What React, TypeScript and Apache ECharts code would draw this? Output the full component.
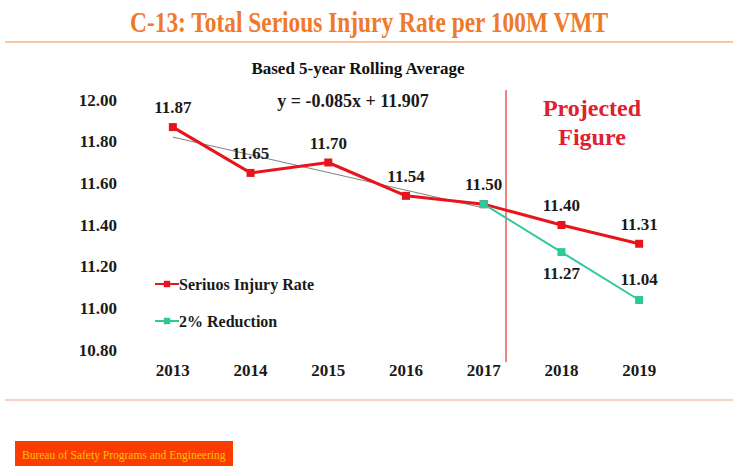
import React, { useEffect, useRef } from "react";
import * as echarts from "echarts";

const years = ["2013", "2014", "2015", "2016", "2017", "2018", "2019"];
const injuryRate = [11.87, 11.65, 11.7, 11.54, 11.5, 11.4, 11.31];
const reduction = [null, null, null, null, 11.5, 11.27, 11.04];
const trend = [11.822, null, null, null, 11.482, null, null];
const yTicks = { min: 10.8, max: 12.0, interval: 0.2 };

const SERIF = "'Liberation Serif', 'Times New Roman', serif";
const TXT = "#1a1a1a";

export default function App() {
  const ref = useRef<HTMLDivElement>(null);
  useEffect(() => {
    const chart = echarts.init(ref.current!, null, { renderer: "svg" });
    const reductionData = reduction.map((v, i) =>
      v === null
        ? null
        : {
            value: v,
            label:
              i === 4
                ? { show: false }
                : i === 5
                ? { show: true, position: "bottom", distance: 9 }
                : { show: true, position: "top", distance: 8 },
          }
    );
    chart.setOption({
      animation: false,
      backgroundColor: "#ffffff",
      grid: { left: 134, right: 55, top: 100, bottom: 116 },
      xAxis: {
        type: "category",
        data: years,
        boundaryGap: true,
        axisLine: { show: false },
        axisTick: { show: false },
        axisLabel: { margin: 12, fontFamily: SERIF, fontWeight: "bold", fontSize: 17, color: TXT },
      },
      yAxis: {
        type: "value",
        min: yTicks.min,
        max: yTicks.max,
        interval: yTicks.interval,
        splitLine: { show: false },
        axisLine: { show: false },
        axisTick: { show: false },
        axisLabel: {
          margin: 17,
          fontFamily: SERIF,
          fontWeight: "bold",
          fontSize: 17,
          color: TXT,
          formatter: (v: number) => v.toFixed(2),
        },
      },
      legend: {
        orient: "vertical",
        left: 149,
        top: 271,
        itemGap: 21,
        itemWidth: 24,
        itemHeight: 8,
        data: ["Seriuos Injury Rate", "2% Reduction"],
        textStyle: { fontFamily: SERIF, fontWeight: "bold", fontSize: 16, color: TXT, padding: [0, 0, 0, -5] },
      },
      series: [
        {
          name: "trend",
          type: "line",
          data: trend,
          connectNulls: true,
          symbol: "none",
          lineStyle: { color: "#808080", width: 1 },
          silent: true,
          z: 1,
        },
        {
          name: "Seriuos Injury Rate",
          type: "line",
          data: injuryRate,
          symbol: "rect",
          symbolSize: 8,
          itemStyle: { color: "#e8141c" },
          lineStyle: { color: "#e8141c", width: 3 },
          label: {
            show: true,
            position: "top",
            distance: 7,
            fontFamily: SERIF,
            fontWeight: "bold",
            fontSize: 17,
            color: TXT,
            formatter: (p: any) => Number(p.value).toFixed(2),
          },
          z: 3,
        },
        {
          name: "2% Reduction",
          type: "line",
          data: reductionData,
          symbol: "rect",
          symbolSize: 8,
          itemStyle: { color: "#2ec99a" },
          lineStyle: { color: "#2ec99a", width: 2 },
          label: {
            show: true,
            fontFamily: SERIF,
            fontWeight: "bold",
            fontSize: 17,
            color: TXT,
            formatter: (p: any) => Number(p.value).toFixed(2),
          },
          z: 4,
        },
      ],
      graphic: [
        {
          type: "text",
          x: 369,
          y: 22,
          scaleX: 0.78,
          style: {
            text: "C-13: Total Serious Injury Rate per 100M VMT",
            fontFamily: SERIF,
            fontWeight: "bold",
            fontSize: 30,
            fill: "#ee7a2a",
            align: "center",
            verticalAlign: "middle",
          },
        },
        {
          type: "rect",
          shape: { x: 5, y: 41, width: 728, height: 2 },
          style: { fill: "#f5c9a8" },
        },
        {
          type: "text",
          x: 358,
          y: 68,
          style: {
            text: "Based 5-year Rolling Average",
            fontFamily: SERIF,
            fontWeight: "bold",
            fontSize: 17,
            fill: "#111",
            align: "center",
            verticalAlign: "middle",
          },
        },
        {
          type: "text",
          x: 353,
          y: 101,
          style: {
            text: "y = -0.085x + 11.907",
            fontFamily: SERIF,
            fontWeight: "bold",
            fontSize: 18,
            fill: TXT,
            align: "center",
            verticalAlign: "middle",
          },
        },
        {
          type: "rect",
          shape: { x: 505, y: 90, width: 2, height: 272 },
          style: { fill: "#f08585" },
        },
        {
          type: "text",
          x: 592,
          y: 108,
          style: {
            text: "Projected",
            fontFamily: SERIF,
            fontWeight: "bold",
            fontSize: 24,
            fill: "#e02030",
            align: "center",
            verticalAlign: "middle",
          },
        },
        {
          type: "text",
          x: 592,
          y: 137,
          style: {
            text: "Figure",
            fontFamily: SERIF,
            fontWeight: "bold",
            fontSize: 24,
            fill: "#e02030",
            align: "center",
            verticalAlign: "middle",
          },
        },
        {
          type: "rect",
          shape: { x: 5, y: 399, width: 728, height: 2 },
          style: { fill: "#f5d3c8" },
        },
        {
          type: "rect",
          shape: { x: 15, y: 441, width: 218, height: 25 },
          style: { fill: "#fb3c00" },
        },
        {
          type: "text",
          x: 22,
          y: 455,
          style: {
            text: "Bureau of Safety Programs and Engineering",
            fontFamily: SERIF,
            fontSize: 11.5,
            fill: "#ffc000",
            verticalAlign: "middle",
          },
        },
      ],
    });
    return () => chart.dispose();
  }, []);
  return <div ref={ref} style={{ width: 733, height: 466, position: "absolute", left: 0, top: 0 }} />;
}
